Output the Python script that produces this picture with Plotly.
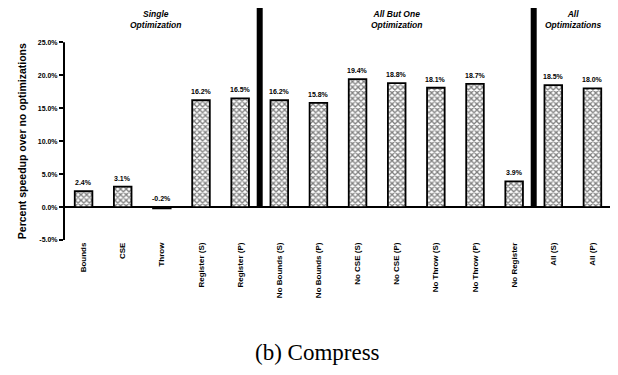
import plotly.graph_objects as go

categories = ["Bounds", "CSE", "Throw", "Register (S)", "Register (P)",
              "No Bounds (S)", "No Bounds (P)", "No CSE (S)", "No CSE (P)",
              "No Throw (S)", "No Throw (P)", "No Register", "All (S)", "All (P)"]
values = [2.4, 3.1, -0.2, 16.2, 16.5, 16.2, 15.8, 19.4, 18.8, 18.1, 18.7, 3.9, 18.5, 18.0]
tick_vals = [-5, 0, 5, 10, 15, 20, 25]
tick_text = [f"{v:.1f}%" for v in tick_vals]
groups = [("Single<br>Optimization", 1.85), ("All But One<br>Optimization", 8), ("All<br>Optimizations", 12.5)]
dividers = [4.5, 11.5]
Y_TOP = 30.2

FONT = "Liberation Sans"
fig = go.Figure()
fig.add_trace(go.Bar(
    x=list(range(len(categories))), y=values,
    marker=dict(color="white", line=dict(color="black", width=1.8),
                pattern=dict(shape="x", fgcolor="black", bgcolor="white", size=4, solidity=0.55)),
    width=0.45, hoverinfo="skip",
))

annotations = []
for i, v in enumerate(values):
    annotations.append(dict(x=i, y=max(v, 0), text=f"{v:.1f}%", showarrow=False,
                            yanchor="bottom", yshift=3,
                            font=dict(family=FONT, size=7, color="black", weight="bold")))
for txt, xc in groups:
    annotations.append(dict(x=xc, y=28.45, text=f"<i><b>{txt}</b></i>", showarrow=False,
                            xanchor="center", yanchor="middle",
                            font=dict(family=FONT, size=8.5, color="black")))
annotations.append(dict(xref="paper", yref="y", x=-0.0766, y=10, textangle=-90,
                        xanchor="center", yanchor="middle",
                        text="<b>Percent speedup over no optimizations</b>", showarrow=False,
                        font=dict(family=FONT, size=10.5, color="black")))
annotations.append(dict(xref="paper", yref="paper", x=0.4635, y=-0.483, text="(b) Compress",
                        xanchor="center", yanchor="middle",
                        showarrow=False, font=dict(family="Liberation Serif", size=23, color="black")))

shapes = []
for d in dividers:
    shapes.append(dict(type="line", xref="x", yref="y", x0=d, x1=d, y0=0, y1=Y_TOP,
                       line=dict(color="black", width=6)))
shapes.append(dict(type="line", xref="paper", yref="y", x0=0, x1=0, y0=-5, y1=25,
                   line=dict(color="black", width=2)))

fig.update_layout(
    width=610, height=367, margin=dict(l=56, r=6, t=0, b=135),
    paper_bgcolor="white", plot_bgcolor="white", showlegend=False,
    annotations=annotations, shapes=shapes,
    xaxis=dict(range=[-0.5, 13.5], tickmode="array", tickvals=list(range(len(categories))),
               ticktext=categories, tickangle=-90, showgrid=False, showline=False, ticks="",
               automargin=False,
               tickfont=dict(family=FONT, size=8, color="black", weight="bold"), zeroline=False),
    yaxis=dict(range=[-5, Y_TOP], tickmode="array", tickvals=tick_vals, ticktext=tick_text,
               showgrid=False, showline=False, ticks="outside", ticklen=4, tickwidth=1.5,
               tickcolor="black", zeroline=True, zerolinecolor="black", zerolinewidth=2,
               automargin=False,
               tickfont=dict(family=FONT, size=7, color="black", weight="bold")),
)
fig.write_html("out.html")
